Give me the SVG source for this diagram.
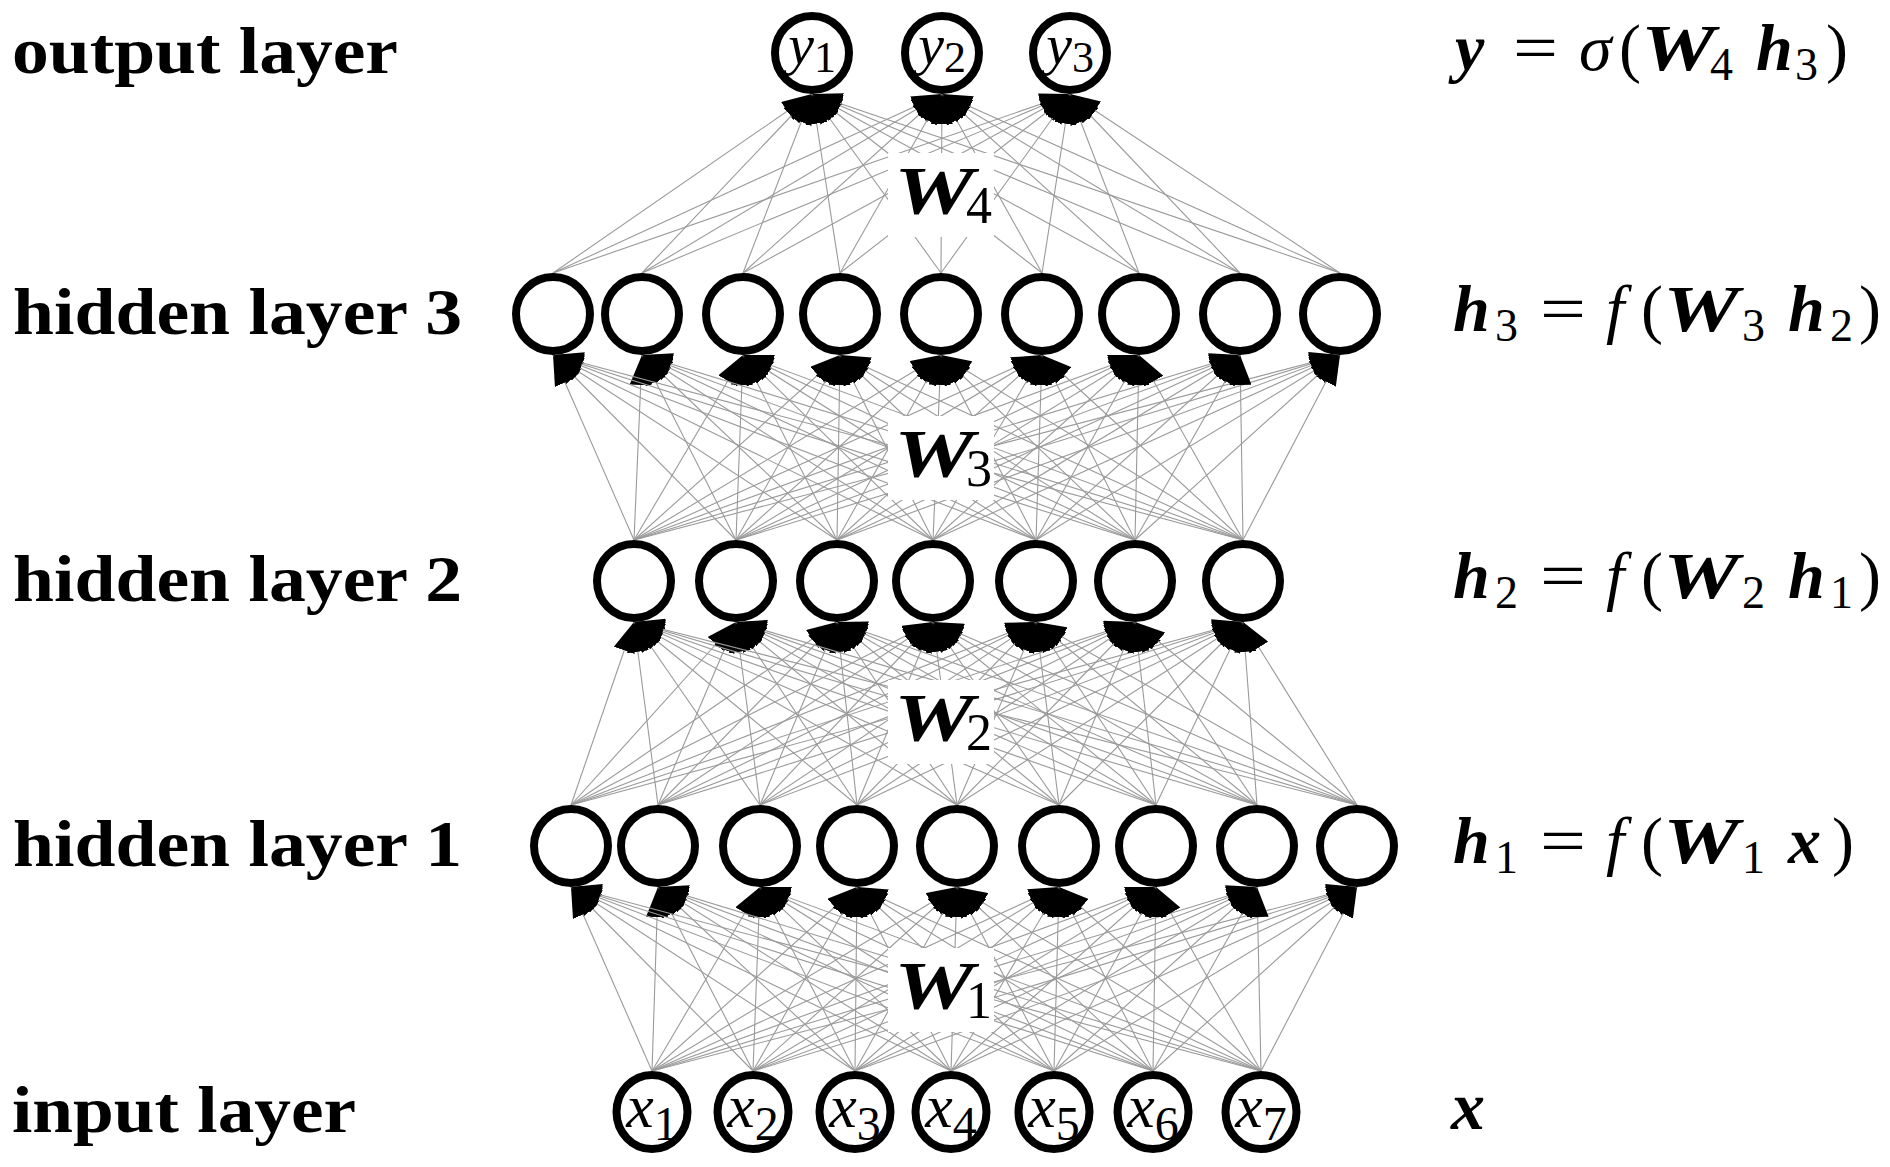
<svg xmlns="http://www.w3.org/2000/svg" width="1890" height="1167" viewBox="0 0 1890 1167">
<style>
.e{stroke:#9a9a9a;stroke-width:1.1;marker-end:url(#ah)}
.n{fill:#fff;stroke:#000;stroke-width:8}
.lab{font-family:"Liberation Serif",serif;font-weight:bold;font-size:66px;fill:#000}
.nt{font-family:"Liberation Serif",serif;font-style:italic;fill:#000}
.up{font-style:normal}
.fm{font-family:"Liberation Serif",serif;font-size:66px;fill:#000}
.bi{font-weight:bold;font-style:italic}
.it{font-style:italic}
.sb{font-size:46px;font-style:normal;font-weight:normal}
.wl{font-family:"Liberation Serif",serif;font-size:68px;fill:#000}
.wb{fill:#fff}
</style>
<defs>
<marker id="ah" viewBox="0 0 30 22" refX="30" refY="11" markerWidth="30" markerHeight="22" markerUnits="userSpaceOnUse" orient="auto"><path d="M0,0L30,11L0,22z" fill="#000"/></marker>
</defs>
<g id="connectors">
<line class="e" x1="652" y1="1071" x2="571" y2="887"/><line class="e" x1="652" y1="1071" x2="658" y2="887"/><line class="e" x1="652" y1="1071" x2="760" y2="887"/><line class="e" x1="652" y1="1071" x2="857" y2="887"/><line class="e" x1="652" y1="1071" x2="957" y2="887"/><line class="e" x1="652" y1="1071" x2="1059" y2="887"/><line class="e" x1="652" y1="1071" x2="1156" y2="887"/><line class="e" x1="652" y1="1071" x2="1257" y2="887"/><line class="e" x1="652" y1="1071" x2="1357" y2="887"/>
<line class="e" x1="753" y1="1071" x2="571" y2="887"/><line class="e" x1="753" y1="1071" x2="658" y2="887"/><line class="e" x1="753" y1="1071" x2="760" y2="887"/><line class="e" x1="753" y1="1071" x2="857" y2="887"/><line class="e" x1="753" y1="1071" x2="957" y2="887"/><line class="e" x1="753" y1="1071" x2="1059" y2="887"/><line class="e" x1="753" y1="1071" x2="1156" y2="887"/><line class="e" x1="753" y1="1071" x2="1257" y2="887"/><line class="e" x1="753" y1="1071" x2="1357" y2="887"/>
<line class="e" x1="855" y1="1071" x2="571" y2="887"/><line class="e" x1="855" y1="1071" x2="658" y2="887"/><line class="e" x1="855" y1="1071" x2="760" y2="887"/><line class="e" x1="855" y1="1071" x2="857" y2="887"/><line class="e" x1="855" y1="1071" x2="957" y2="887"/><line class="e" x1="855" y1="1071" x2="1059" y2="887"/><line class="e" x1="855" y1="1071" x2="1156" y2="887"/><line class="e" x1="855" y1="1071" x2="1257" y2="887"/><line class="e" x1="855" y1="1071" x2="1357" y2="887"/>
<line class="e" x1="951" y1="1071" x2="571" y2="887"/><line class="e" x1="951" y1="1071" x2="658" y2="887"/><line class="e" x1="951" y1="1071" x2="760" y2="887"/><line class="e" x1="951" y1="1071" x2="857" y2="887"/><line class="e" x1="951" y1="1071" x2="957" y2="887"/><line class="e" x1="951" y1="1071" x2="1059" y2="887"/><line class="e" x1="951" y1="1071" x2="1156" y2="887"/><line class="e" x1="951" y1="1071" x2="1257" y2="887"/><line class="e" x1="951" y1="1071" x2="1357" y2="887"/>
<line class="e" x1="1054" y1="1071" x2="571" y2="887"/><line class="e" x1="1054" y1="1071" x2="658" y2="887"/><line class="e" x1="1054" y1="1071" x2="760" y2="887"/><line class="e" x1="1054" y1="1071" x2="857" y2="887"/><line class="e" x1="1054" y1="1071" x2="957" y2="887"/><line class="e" x1="1054" y1="1071" x2="1059" y2="887"/><line class="e" x1="1054" y1="1071" x2="1156" y2="887"/><line class="e" x1="1054" y1="1071" x2="1257" y2="887"/><line class="e" x1="1054" y1="1071" x2="1357" y2="887"/>
<line class="e" x1="1153" y1="1071" x2="571" y2="887"/><line class="e" x1="1153" y1="1071" x2="658" y2="887"/><line class="e" x1="1153" y1="1071" x2="760" y2="887"/><line class="e" x1="1153" y1="1071" x2="857" y2="887"/><line class="e" x1="1153" y1="1071" x2="957" y2="887"/><line class="e" x1="1153" y1="1071" x2="1059" y2="887"/><line class="e" x1="1153" y1="1071" x2="1156" y2="887"/><line class="e" x1="1153" y1="1071" x2="1257" y2="887"/><line class="e" x1="1153" y1="1071" x2="1357" y2="887"/>
<line class="e" x1="1261" y1="1071" x2="571" y2="887"/><line class="e" x1="1261" y1="1071" x2="658" y2="887"/><line class="e" x1="1261" y1="1071" x2="760" y2="887"/><line class="e" x1="1261" y1="1071" x2="857" y2="887"/><line class="e" x1="1261" y1="1071" x2="957" y2="887"/><line class="e" x1="1261" y1="1071" x2="1059" y2="887"/><line class="e" x1="1261" y1="1071" x2="1156" y2="887"/><line class="e" x1="1261" y1="1071" x2="1257" y2="887"/><line class="e" x1="1261" y1="1071" x2="1357" y2="887"/>

<line class="e" x1="571" y1="805" x2="634" y2="622"/><line class="e" x1="571" y1="805" x2="736" y2="622"/><line class="e" x1="571" y1="805" x2="837" y2="622"/><line class="e" x1="571" y1="805" x2="933" y2="622"/><line class="e" x1="571" y1="805" x2="1036" y2="622"/><line class="e" x1="571" y1="805" x2="1135" y2="622"/><line class="e" x1="571" y1="805" x2="1243" y2="622"/>
<line class="e" x1="658" y1="805" x2="634" y2="622"/><line class="e" x1="658" y1="805" x2="736" y2="622"/><line class="e" x1="658" y1="805" x2="837" y2="622"/><line class="e" x1="658" y1="805" x2="933" y2="622"/><line class="e" x1="658" y1="805" x2="1036" y2="622"/><line class="e" x1="658" y1="805" x2="1135" y2="622"/><line class="e" x1="658" y1="805" x2="1243" y2="622"/>
<line class="e" x1="760" y1="805" x2="634" y2="622"/><line class="e" x1="760" y1="805" x2="736" y2="622"/><line class="e" x1="760" y1="805" x2="837" y2="622"/><line class="e" x1="760" y1="805" x2="933" y2="622"/><line class="e" x1="760" y1="805" x2="1036" y2="622"/><line class="e" x1="760" y1="805" x2="1135" y2="622"/><line class="e" x1="760" y1="805" x2="1243" y2="622"/>
<line class="e" x1="857" y1="805" x2="634" y2="622"/><line class="e" x1="857" y1="805" x2="736" y2="622"/><line class="e" x1="857" y1="805" x2="837" y2="622"/><line class="e" x1="857" y1="805" x2="933" y2="622"/><line class="e" x1="857" y1="805" x2="1036" y2="622"/><line class="e" x1="857" y1="805" x2="1135" y2="622"/><line class="e" x1="857" y1="805" x2="1243" y2="622"/>
<line class="e" x1="957" y1="805" x2="634" y2="622"/><line class="e" x1="957" y1="805" x2="736" y2="622"/><line class="e" x1="957" y1="805" x2="837" y2="622"/><line class="e" x1="957" y1="805" x2="933" y2="622"/><line class="e" x1="957" y1="805" x2="1036" y2="622"/><line class="e" x1="957" y1="805" x2="1135" y2="622"/><line class="e" x1="957" y1="805" x2="1243" y2="622"/>
<line class="e" x1="1059" y1="805" x2="634" y2="622"/><line class="e" x1="1059" y1="805" x2="736" y2="622"/><line class="e" x1="1059" y1="805" x2="837" y2="622"/><line class="e" x1="1059" y1="805" x2="933" y2="622"/><line class="e" x1="1059" y1="805" x2="1036" y2="622"/><line class="e" x1="1059" y1="805" x2="1135" y2="622"/><line class="e" x1="1059" y1="805" x2="1243" y2="622"/>
<line class="e" x1="1156" y1="805" x2="634" y2="622"/><line class="e" x1="1156" y1="805" x2="736" y2="622"/><line class="e" x1="1156" y1="805" x2="837" y2="622"/><line class="e" x1="1156" y1="805" x2="933" y2="622"/><line class="e" x1="1156" y1="805" x2="1036" y2="622"/><line class="e" x1="1156" y1="805" x2="1135" y2="622"/><line class="e" x1="1156" y1="805" x2="1243" y2="622"/>
<line class="e" x1="1257" y1="805" x2="634" y2="622"/><line class="e" x1="1257" y1="805" x2="736" y2="622"/><line class="e" x1="1257" y1="805" x2="837" y2="622"/><line class="e" x1="1257" y1="805" x2="933" y2="622"/><line class="e" x1="1257" y1="805" x2="1036" y2="622"/><line class="e" x1="1257" y1="805" x2="1135" y2="622"/><line class="e" x1="1257" y1="805" x2="1243" y2="622"/>
<line class="e" x1="1357" y1="805" x2="634" y2="622"/><line class="e" x1="1357" y1="805" x2="736" y2="622"/><line class="e" x1="1357" y1="805" x2="837" y2="622"/><line class="e" x1="1357" y1="805" x2="933" y2="622"/><line class="e" x1="1357" y1="805" x2="1036" y2="622"/><line class="e" x1="1357" y1="805" x2="1135" y2="622"/><line class="e" x1="1357" y1="805" x2="1243" y2="622"/>

<line class="e" x1="634" y1="540" x2="553" y2="355"/><line class="e" x1="634" y1="540" x2="642" y2="355"/><line class="e" x1="634" y1="540" x2="743" y2="355"/><line class="e" x1="634" y1="540" x2="840" y2="355"/><line class="e" x1="634" y1="540" x2="941" y2="355"/><line class="e" x1="634" y1="540" x2="1042" y2="355"/><line class="e" x1="634" y1="540" x2="1139" y2="355"/><line class="e" x1="634" y1="540" x2="1240" y2="355"/><line class="e" x1="634" y1="540" x2="1340" y2="355"/>
<line class="e" x1="736" y1="540" x2="553" y2="355"/><line class="e" x1="736" y1="540" x2="642" y2="355"/><line class="e" x1="736" y1="540" x2="743" y2="355"/><line class="e" x1="736" y1="540" x2="840" y2="355"/><line class="e" x1="736" y1="540" x2="941" y2="355"/><line class="e" x1="736" y1="540" x2="1042" y2="355"/><line class="e" x1="736" y1="540" x2="1139" y2="355"/><line class="e" x1="736" y1="540" x2="1240" y2="355"/><line class="e" x1="736" y1="540" x2="1340" y2="355"/>
<line class="e" x1="837" y1="540" x2="553" y2="355"/><line class="e" x1="837" y1="540" x2="642" y2="355"/><line class="e" x1="837" y1="540" x2="743" y2="355"/><line class="e" x1="837" y1="540" x2="840" y2="355"/><line class="e" x1="837" y1="540" x2="941" y2="355"/><line class="e" x1="837" y1="540" x2="1042" y2="355"/><line class="e" x1="837" y1="540" x2="1139" y2="355"/><line class="e" x1="837" y1="540" x2="1240" y2="355"/><line class="e" x1="837" y1="540" x2="1340" y2="355"/>
<line class="e" x1="933" y1="540" x2="553" y2="355"/><line class="e" x1="933" y1="540" x2="642" y2="355"/><line class="e" x1="933" y1="540" x2="743" y2="355"/><line class="e" x1="933" y1="540" x2="840" y2="355"/><line class="e" x1="933" y1="540" x2="941" y2="355"/><line class="e" x1="933" y1="540" x2="1042" y2="355"/><line class="e" x1="933" y1="540" x2="1139" y2="355"/><line class="e" x1="933" y1="540" x2="1240" y2="355"/><line class="e" x1="933" y1="540" x2="1340" y2="355"/>
<line class="e" x1="1036" y1="540" x2="553" y2="355"/><line class="e" x1="1036" y1="540" x2="642" y2="355"/><line class="e" x1="1036" y1="540" x2="743" y2="355"/><line class="e" x1="1036" y1="540" x2="840" y2="355"/><line class="e" x1="1036" y1="540" x2="941" y2="355"/><line class="e" x1="1036" y1="540" x2="1042" y2="355"/><line class="e" x1="1036" y1="540" x2="1139" y2="355"/><line class="e" x1="1036" y1="540" x2="1240" y2="355"/><line class="e" x1="1036" y1="540" x2="1340" y2="355"/>
<line class="e" x1="1135" y1="540" x2="553" y2="355"/><line class="e" x1="1135" y1="540" x2="642" y2="355"/><line class="e" x1="1135" y1="540" x2="743" y2="355"/><line class="e" x1="1135" y1="540" x2="840" y2="355"/><line class="e" x1="1135" y1="540" x2="941" y2="355"/><line class="e" x1="1135" y1="540" x2="1042" y2="355"/><line class="e" x1="1135" y1="540" x2="1139" y2="355"/><line class="e" x1="1135" y1="540" x2="1240" y2="355"/><line class="e" x1="1135" y1="540" x2="1340" y2="355"/>
<line class="e" x1="1243" y1="540" x2="553" y2="355"/><line class="e" x1="1243" y1="540" x2="642" y2="355"/><line class="e" x1="1243" y1="540" x2="743" y2="355"/><line class="e" x1="1243" y1="540" x2="840" y2="355"/><line class="e" x1="1243" y1="540" x2="941" y2="355"/><line class="e" x1="1243" y1="540" x2="1042" y2="355"/><line class="e" x1="1243" y1="540" x2="1139" y2="355"/><line class="e" x1="1243" y1="540" x2="1240" y2="355"/><line class="e" x1="1243" y1="540" x2="1340" y2="355"/>

<line class="e" x1="553" y1="273" x2="812" y2="94"/><line class="e" x1="553" y1="273" x2="942" y2="94"/><line class="e" x1="553" y1="273" x2="1070" y2="94"/>
<line class="e" x1="642" y1="273" x2="812" y2="94"/><line class="e" x1="642" y1="273" x2="942" y2="94"/><line class="e" x1="642" y1="273" x2="1070" y2="94"/>
<line class="e" x1="743" y1="273" x2="812" y2="94"/><line class="e" x1="743" y1="273" x2="942" y2="94"/><line class="e" x1="743" y1="273" x2="1070" y2="94"/>
<line class="e" x1="840" y1="273" x2="812" y2="94"/><line class="e" x1="840" y1="273" x2="942" y2="94"/><line class="e" x1="840" y1="273" x2="1070" y2="94"/>
<line class="e" x1="941" y1="273" x2="812" y2="94"/><line class="e" x1="941" y1="273" x2="942" y2="94"/><line class="e" x1="941" y1="273" x2="1070" y2="94"/>
<line class="e" x1="1042" y1="273" x2="812" y2="94"/><line class="e" x1="1042" y1="273" x2="942" y2="94"/><line class="e" x1="1042" y1="273" x2="1070" y2="94"/>
<line class="e" x1="1139" y1="273" x2="812" y2="94"/><line class="e" x1="1139" y1="273" x2="942" y2="94"/><line class="e" x1="1139" y1="273" x2="1070" y2="94"/>
<line class="e" x1="1240" y1="273" x2="812" y2="94"/><line class="e" x1="1240" y1="273" x2="942" y2="94"/><line class="e" x1="1240" y1="273" x2="1070" y2="94"/>
<line class="e" x1="1340" y1="273" x2="812" y2="94"/><line class="e" x1="1340" y1="273" x2="942" y2="94"/><line class="e" x1="1340" y1="273" x2="1070" y2="94"/>
</g>

<g id="weight-labels">
<g id="W4"><rect class="wb" x="888" y="153" width="106" height="84"/><text class="wl" y="213"><tspan class="bi" x="894" textLength="80" lengthAdjust="spacingAndGlyphs">W</tspan><tspan x="966" y="223" font-size="52">4</tspan></text></g>
<g id="W3"><rect class="wb" x="888" y="416" width="106" height="84"/><text class="wl" y="476"><tspan class="bi" x="894" textLength="80" lengthAdjust="spacingAndGlyphs">W</tspan><tspan x="966" y="486" font-size="52">3</tspan></text></g>
<g id="W2"><rect class="wb" x="888" y="680" width="106" height="84"/><text class="wl" y="740"><tspan class="bi" x="894" textLength="80" lengthAdjust="spacingAndGlyphs">W</tspan><tspan x="966" y="750" font-size="52">2</tspan></text></g>
<g id="W1"><rect class="wb" x="888" y="948" width="106" height="84"/><text class="wl" y="1008"><tspan class="bi" x="894" textLength="80" lengthAdjust="spacingAndGlyphs">W</tspan><tspan x="966" y="1018" font-size="52">1</tspan></text></g>
</g>

<g id="output-layer">
<g id="y1"><circle class="n" cx="812" cy="53" r="37"/><text class="nt" x="812" y="64" text-anchor="middle" font-size="58">y<tspan class="up" dy="8" font-size="44">1</tspan></text></g>
<g id="y2"><circle class="n" cx="942" cy="53" r="37"/><text class="nt" x="942" y="64" text-anchor="middle" font-size="58">y<tspan class="up" dy="8" font-size="44">2</tspan></text></g>
<g id="y3"><circle class="n" cx="1070" cy="53" r="37"/><text class="nt" x="1070" y="64" text-anchor="middle" font-size="58">y<tspan class="up" dy="8" font-size="44">3</tspan></text></g>
</g>

<g id="hidden-layer-3">
<g id="h3_1"><circle class="n" cx="553" cy="314" r="37"/></g>
<g id="h3_2"><circle class="n" cx="642" cy="314" r="37"/></g>
<g id="h3_3"><circle class="n" cx="743" cy="314" r="37"/></g>
<g id="h3_4"><circle class="n" cx="840" cy="314" r="37"/></g>
<g id="h3_5"><circle class="n" cx="941" cy="314" r="37"/></g>
<g id="h3_6"><circle class="n" cx="1042" cy="314" r="37"/></g>
<g id="h3_7"><circle class="n" cx="1139" cy="314" r="37"/></g>
<g id="h3_8"><circle class="n" cx="1240" cy="314" r="37"/></g>
<g id="h3_9"><circle class="n" cx="1340" cy="314" r="37"/></g>
</g>

<g id="hidden-layer-2">
<g id="h2_1"><circle class="n" cx="634" cy="581" r="37"/></g>
<g id="h2_2"><circle class="n" cx="736" cy="581" r="37"/></g>
<g id="h2_3"><circle class="n" cx="837" cy="581" r="37"/></g>
<g id="h2_4"><circle class="n" cx="933" cy="581" r="37"/></g>
<g id="h2_5"><circle class="n" cx="1036" cy="581" r="37"/></g>
<g id="h2_6"><circle class="n" cx="1135" cy="581" r="37"/></g>
<g id="h2_7"><circle class="n" cx="1243" cy="581" r="37"/></g>
</g>

<g id="hidden-layer-1">
<g id="h1_1"><circle class="n" cx="571" cy="846" r="37"/></g>
<g id="h1_2"><circle class="n" cx="658" cy="846" r="37"/></g>
<g id="h1_3"><circle class="n" cx="760" cy="846" r="37"/></g>
<g id="h1_4"><circle class="n" cx="857" cy="846" r="37"/></g>
<g id="h1_5"><circle class="n" cx="957" cy="846" r="37"/></g>
<g id="h1_6"><circle class="n" cx="1059" cy="846" r="37"/></g>
<g id="h1_7"><circle class="n" cx="1156" cy="846" r="37"/></g>
<g id="h1_8"><circle class="n" cx="1257" cy="846" r="37"/></g>
<g id="h1_9"><circle class="n" cx="1357" cy="846" r="37"/></g>
</g>

<g id="input-layer">
<g id="x1"><ellipse class="n" cx="652" cy="1112" rx="35.5" ry="37"/><text class="nt" x="652" y="1127" text-anchor="middle" font-size="62">x<tspan class="up" dy="13" font-size="48">1</tspan></text></g>
<g id="x2"><ellipse class="n" cx="753" cy="1112" rx="35.5" ry="37"/><text class="nt" x="753" y="1127" text-anchor="middle" font-size="62">x<tspan class="up" dy="13" font-size="48">2</tspan></text></g>
<g id="x3"><ellipse class="n" cx="855" cy="1112" rx="35.5" ry="37"/><text class="nt" x="855" y="1127" text-anchor="middle" font-size="62">x<tspan class="up" dy="13" font-size="48">3</tspan></text></g>
<g id="x4"><ellipse class="n" cx="951" cy="1112" rx="35.5" ry="37"/><text class="nt" x="951" y="1127" text-anchor="middle" font-size="62">x<tspan class="up" dy="13" font-size="48">4</tspan></text></g>
<g id="x5"><ellipse class="n" cx="1054" cy="1112" rx="35.5" ry="37"/><text class="nt" x="1054" y="1127" text-anchor="middle" font-size="62">x<tspan class="up" dy="13" font-size="48">5</tspan></text></g>
<g id="x6"><ellipse class="n" cx="1153" cy="1112" rx="35.5" ry="37"/><text class="nt" x="1153" y="1127" text-anchor="middle" font-size="62">x<tspan class="up" dy="13" font-size="48">6</tspan></text></g>
<g id="x7"><ellipse class="n" cx="1261" cy="1112" rx="35.5" ry="37"/><text class="nt" x="1261" y="1127" text-anchor="middle" font-size="62">x<tspan class="up" dy="13" font-size="48">7</tspan></text></g>
</g>

<g id="layer-names">
<text class="lab" x="12" y="73" textLength="386" lengthAdjust="spacingAndGlyphs">output layer</text>
<text class="lab" x="13" y="334" textLength="449" lengthAdjust="spacingAndGlyphs">hidden layer 3</text>
<text class="lab" x="13" y="601" textLength="449" lengthAdjust="spacingAndGlyphs">hidden layer 2</text>
<text class="lab" x="13" y="866" textLength="449" lengthAdjust="spacingAndGlyphs">hidden layer 1</text>
<text class="lab" x="12" y="1132" textLength="344" lengthAdjust="spacingAndGlyphs">input layer</text>
</g>

<g id="formulas">
<text class="fm" y="70"><tspan class="bi" x="1455">y</tspan><tspan x="1513" textLength="45" lengthAdjust="spacingAndGlyphs">=</tspan><tspan class="it" x="1579">σ</tspan><tspan x="1619">(</tspan><tspan class="bi" x="1641" textLength="74" lengthAdjust="spacingAndGlyphs">W</tspan><tspan class="sb" x="1710" y="80">4</tspan><tspan class="bi" x="1756" y="70">h</tspan><tspan class="sb" x="1795" y="80">3</tspan><tspan x="1826" y="70">)</tspan></text>
<text class="fm" y="331"><tspan class="bi" x="1453">h</tspan><tspan class="sb" x="1495" y="341">3</tspan><tspan x="1540" y="331" textLength="46" lengthAdjust="spacingAndGlyphs">=</tspan><tspan class="it" x="1606">f</tspan><tspan x="1641">(</tspan><tspan class="bi" x="1663" textLength="76" lengthAdjust="spacingAndGlyphs">W</tspan><tspan class="sb" x="1742" y="341">3</tspan><tspan class="bi" x="1788" y="331">h</tspan><tspan class="sb" x="1830" y="341">2</tspan><tspan x="1859" y="331">)</tspan></text>
<text class="fm" y="598"><tspan class="bi" x="1453">h</tspan><tspan class="sb" x="1495" y="608">2</tspan><tspan x="1540" y="598" textLength="46" lengthAdjust="spacingAndGlyphs">=</tspan><tspan class="it" x="1606">f</tspan><tspan x="1641">(</tspan><tspan class="bi" x="1663" textLength="76" lengthAdjust="spacingAndGlyphs">W</tspan><tspan class="sb" x="1742" y="608">2</tspan><tspan class="bi" x="1788" y="598">h</tspan><tspan class="sb" x="1830" y="608">1</tspan><tspan x="1859" y="598">)</tspan></text>
<text class="fm" y="863"><tspan class="bi" x="1453">h</tspan><tspan class="sb" x="1495" y="873">1</tspan><tspan x="1540" y="863" textLength="46" lengthAdjust="spacingAndGlyphs">=</tspan><tspan class="it" x="1606">f</tspan><tspan x="1641">(</tspan><tspan class="bi" x="1663" textLength="76" lengthAdjust="spacingAndGlyphs">W</tspan><tspan class="sb" x="1742" y="873">1</tspan><tspan class="bi" x="1788" y="863">x</tspan><tspan x="1832">)</tspan></text>
<text class="fm" y="1129"><tspan class="bi" x="1451" font-size="68">x</tspan></text>
</g>
</svg>
